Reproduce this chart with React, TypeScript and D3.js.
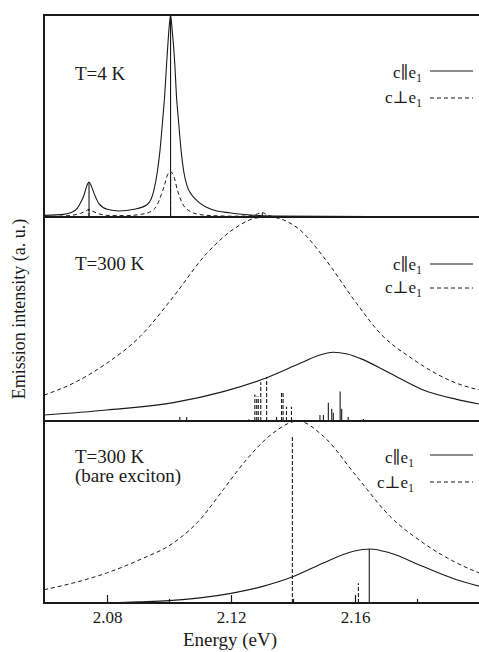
import React, { useRef, useEffect } from "react";
import * as d3 from "d3";

type Pt = [number, number];

// x axis (eV)
const energyTicks = [2.08, 2.12, 2.16];
const energyMinorTicks = [2.1, 2.14, 2.18];

// T = 4 K  (intensity relative to the panel height)
const t4Parallel: Pt[] = [
  [2.06, 0.008], [2.066, 0.013], [2.0685, 0.022], [2.0704, 0.043], [2.0718, 0.08],
  [2.0726, 0.109], [2.0735, 0.155], [2.0742, 0.173], [2.0749, 0.155], [2.0758, 0.118],
  [2.0774, 0.066], [2.0801, 0.038], [2.0839, 0.03], [2.0887, 0.038], [2.093, 0.062],
  [2.0951, 0.13], [2.0963, 0.23], [2.0971, 0.33], [2.0979, 0.47], [2.0986, 0.6],
  [2.0992, 0.75], [2.1, 0.93], [2.1005, 1.0], [2.101, 0.93], [2.1019, 0.75],
  [2.1024, 0.6], [2.1031, 0.47], [2.1039, 0.33], [2.1047, 0.23], [2.1059, 0.15],
  [2.1073, 0.11], [2.1091, 0.08], [2.1134, 0.04], [2.1199, 0.02], [2.1263, 0.01],
  [2.134, 0.005], [2.15, 0.003], [2.2, 0.001],
];
const t4Perp: Pt[] = [
  [2.06, 0.002], [2.0661, 0.005], [2.07, 0.012], [2.0715, 0.018], [2.0732, 0.03],
  [2.0742, 0.038], [2.0752, 0.03], [2.0769, 0.018], [2.079, 0.01], [2.0812, 0.007],
  [2.0865, 0.007], [2.09, 0.011], [2.0919, 0.016], [2.0945, 0.03], [2.0962, 0.06],
  [2.0975, 0.11], [2.0984, 0.15], [2.0995, 0.208], [2.1005, 0.224], [2.1016, 0.2],
  [2.1027, 0.134], [2.1043, 0.068], [2.107, 0.026], [2.11, 0.012], [2.1135, 0.007],
  [2.122, 0.004], [2.1264, 0.007], [2.1285, 0.015], [2.1301, 0.022], [2.1317, 0.01],
  [2.1339, 0.002], [2.15, 0.001], [2.2, 0.001],
];
const t4ParallelSticks: Pt[] = [[2.0742, 0.173], [2.1005, 1.0]];
const t4PerpSticks: Pt[] = [[2.0742, 0.038], [2.1005, 0.224], [2.1301, 0.02]];

// T = 300 K
const t300Parallel: Pt[] = [
  [2.0597, 0.029], [2.0799, 0.054], [2.1014, 0.09], [2.1175, 0.144], [2.1315, 0.212],
  [2.1423, 0.283], [2.148, 0.32], [2.153, 0.337], [2.1575, 0.328], [2.1616, 0.307],
  [2.1713, 0.234], [2.182, 0.152], [2.1928, 0.106], [2.2001, 0.083],
];
const t300Perp: Pt[] = [
  [2.0597, 0.127], [2.0691, 0.185], [2.0799, 0.283], [2.0906, 0.413], [2.1014, 0.609],
  [2.1122, 0.822], [2.1229, 0.961], [2.128, 0.995], [2.1326, 1.0], [2.137, 0.985],
  [2.1423, 0.936], [2.1498, 0.805], [2.1605, 0.577], [2.1681, 0.43], [2.1783, 0.307],
  [2.1928, 0.185], [2.2001, 0.152],
];
const t300ParallelSticks: Pt[] = [
  [2.1035, 0.02], [2.1057, 0.02], [2.1258, 0.008], [2.1487, 0.03], [2.1498, 0.03],
  [2.1514, 0.09], [2.1525, 0.06], [2.153, 0.04], [2.1552, 0.145], [2.1557, 0.06],
  [2.1578, 0.02], [2.1627, 0.01],
];
const t300PerpSticks: Pt[] = [
  [2.1277, 0.13], [2.1283, 0.12], [2.1288, 0.12], [2.1296, 0.19], [2.1315, 0.215],
  [2.1347, 0.03], [2.1363, 0.137], [2.1368, 0.137], [2.1379, 0.07], [2.1395, 0.07],
];

// T = 300 K, bare exciton
const bareParallel: Pt[] = [
  [2.08, 0.0], [2.09, 0.006], [2.1, 0.013], [2.11, 0.028], [2.12, 0.053],
  [2.13, 0.09], [2.1401, 0.145], [2.1498, 0.22], [2.1595, 0.284], [2.1648, 0.297],
  [2.1713, 0.275], [2.182, 0.2], [2.1928, 0.128], [2.2001, 0.092],
];
const barePerp: Pt[] = [
  [2.0597, 0.073], [2.0691, 0.11], [2.0799, 0.165], [2.0906, 0.238], [2.1014, 0.33],
  [2.11, 0.458], [2.1175, 0.623], [2.125, 0.788], [2.1336, 0.934], [2.1416, 1.0],
  [2.1498, 0.916], [2.1605, 0.696], [2.1713, 0.476], [2.182, 0.33], [2.1928, 0.22],
  [2.2001, 0.165],
];
const bareParallelSticks: Pt[] = [[2.1646, 0.297]];
const barePerpSticks: Pt[] = [[2.1398, 0.92], [2.1611, 0.108]];

const panelTitles = [["T=4 K"], ["T=300 K"], ["T=300 K", "(bare exciton)"]];
const legendNames = ["c\u2225e", "c\u22a5e"];

const W = 479;
const H = 652;
const FONT = "Liberation Serif, Tinos, Times New Roman, Times, DejaVu Serif, serif";
const INK = "#1a1a1a";

function App() {
  const svgRef = useRef<SVGSVGElement | null>(null);

  useEffect(() => {
    const svg = d3.select(svgRef.current);
    svg.selectAll("*").remove();

    const left = 44;
    const x = d3.scaleLinear().domain([2.06, 2.2]).range([45, 479]);

    // legend: [solid line y, its text baseline, dashed line y, its text baseline]
    const panels = [
      { top: 15, bottom: 217, par: t4Parallel, perp: t4Perp, parS: t4ParallelSticks, perpS: t4PerpSticks, title: panelTitles[0], titleY: 80, leg: [71, 78, 98, 103], legEnd: 422 },
      { top: 217, bottom: 421, par: t300Parallel, perp: t300Perp, parS: t300ParallelSticks, perpS: t300PerpSticks, title: panelTitles[1], titleY: 270, leg: [264, 270, 288, 293], legEnd: 422 },
      { top: 421, bottom: 603, par: bareParallel, perp: barePerp, parS: bareParallelSticks, perpS: barePerpSticks, title: panelTitles[2], titleY: 463, leg: [455, 463, 482, 488], legEnd: 414 },
    ];

    svg.append("defs").append("clipPath").attr("id", "plotclip")
      .append("rect").attr("x", left).attr("y", 0).attr("width", W - left).attr("height", 603);

    panels.forEach((p) => {
      const y = d3.scaleLinear().domain([0, 1]).range([p.bottom, p.top]);
      const line = d3.line<Pt>().x((d) => x(d[0])).y((d) => y(d[1])).curve(d3.curveMonotoneX);
      const g = svg.append("g").attr("clip-path", "url(#plotclip)");

      g.append("path").datum(p.perp).attr("d", line).attr("fill", "none")
        .attr("stroke", INK).attr("stroke-width", 1).attr("stroke-dasharray", "4,3");
      g.append("path").datum(p.par).attr("d", line).attr("fill", "none")
        .attr("stroke", INK).attr("stroke-width", 1.1);

      g.selectAll(null).data(p.perpS).enter().append("line")
        .attr("x1", (d) => x(d[0])).attr("x2", (d) => x(d[0]))
        .attr("y1", y(0)).attr("y2", (d) => y(d[1]))
        .attr("stroke", INK).attr("stroke-width", 1.1).attr("stroke-dasharray", "4,2");
      g.selectAll(null).data(p.parS).enter().append("line")
        .attr("x1", (d) => x(d[0])).attr("x2", (d) => x(d[0]))
        .attr("y1", y(0)).attr("y2", (d) => y(d[1]))
        .attr("stroke", INK).attr("stroke-width", 1.1);

      // panel title
      p.title.forEach((s, i) => {
        svg.append("text").attr("x", 75).attr("y", p.titleY + i * 19)
          .attr("font-family", FONT).attr("font-size", 19).attr("fill", INK).text(s);
      });

      // legend
      legendNames.forEach((name, i) => {
        const lineY = p.leg[i * 2];
        const textY = p.leg[i * 2 + 1];
        const lt = svg.append("text").attr("x", p.legEnd).attr("y", textY)
          .attr("text-anchor", "end").attr("font-family", FONT).attr("font-size", 17).attr("fill", INK);
        lt.append("tspan").text(name);
        lt.append("tspan").attr("font-size", 12).attr("dy", 4).text("1");
        svg.append("line").attr("x1", 430).attr("x2", 473).attr("y1", lineY).attr("y2", lineY)
          .attr("stroke", INK).attr("stroke-width", 1)
          .attr("stroke-dasharray", i === 0 ? null : "4,3");
      });
    });

    // frame
    const frame = svg.append("g").attr("stroke", INK).attr("stroke-width", 2).attr("fill", "none");
    frame.append("line").attr("x1", left).attr("x2", left).attr("y1", 14).attr("y2", 604);
    [15, 217, 421, 603].forEach((yy) => {
      frame.append("line").attr("x1", left - 1).attr("x2", W + 2).attr("y1", yy).attr("y2", yy);
    });

    // x axis ticks (inward)
    const axisG = svg.append("g").attr("transform", "translate(0,603)");
    axisG.call(
      d3.axisBottom(x).tickValues(energyTicks).tickSizeInner(-8).tickSizeOuter(0)
        .tickPadding(8).tickFormat(d3.format(".2f"))
    );
    axisG.attr("font-family", FONT);
    axisG.select(".domain").remove();
    axisG.selectAll(".tick line").attr("stroke", INK).attr("stroke-width", 1.2);
    axisG.selectAll("text").attr("font-family", FONT).attr("font-size", 17).attr("fill", INK);

    const minorG = svg.append("g").attr("transform", "translate(0,603)");
    minorG.call(
      d3.axisBottom(x).tickValues(energyMinorTicks).tickSizeInner(-4).tickSizeOuter(0)
        .tickFormat(() => "")
    );
    minorG.select(".domain").remove();
    minorG.selectAll(".tick line").attr("stroke", INK).attr("stroke-width", 1.2);

    svg.append("text").attr("x", 230).attr("y", 646).attr("text-anchor", "middle")
      .attr("font-family", FONT).attr("font-size", 19).attr("fill", INK).text("Energy (eV)");

    svg.append("text").attr("transform", "translate(25,309) rotate(-90)")
      .attr("text-anchor", "middle").attr("font-family", FONT).attr("font-size", 18)
      .attr("fill", INK).text("Emission intensity (a. u.)");
  }, []);

  return (
    <svg
      ref={svgRef}
      width={W}
      height={H}
      style={{ position: "absolute", left: 0, top: 0, background: "#fff" }}
    ></svg>
  );
}

export default App;
